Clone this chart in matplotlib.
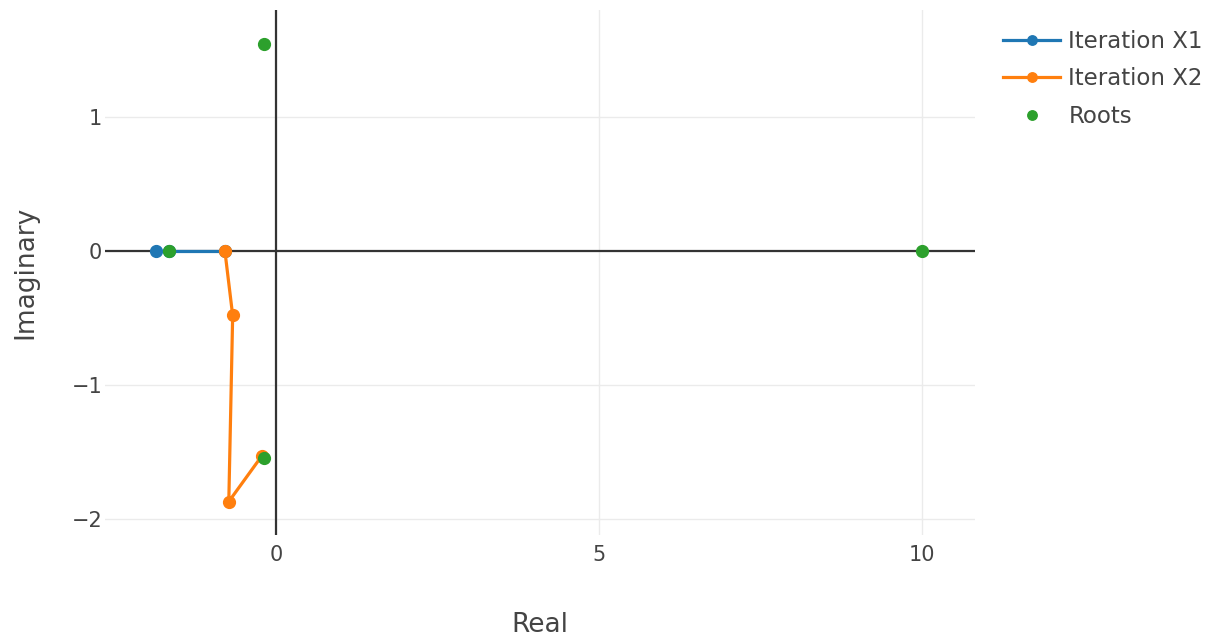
import numpy as np
import matplotlib.pyplot as plt

# Iterates of the two sequences and the polynomial roots (complex plane)
x1_real = [-0.79, -1.86, -1.66]
x1_imag = [0.0, 0.0, 0.0]

x2_real = [-0.79, -0.67, -0.73, -0.22]
x2_imag = [0.0, -0.48, -1.87, -1.53]

roots_real = [-0.19, -0.19, -1.66, 10.0]
roots_imag = [1.545, -1.545, 0.0, 0.0]

xticks = [0, 5, 10]
yticks = [-2, -1, 0, 1]

plt.rcParams['font.family'] = ['DejaVu Sans']

fig = plt.figure(figsize=(12.19, 6.38), dpi=100)
ax = fig.add_axes([0.0861, 0.1614, 0.7137, 0.8226])

ax.plot(x1_real, x1_imag, color='#1f77b4', lw=2.3, marker='o', ms=8.5,
        label='Iteration X1', zorder=3)
ax.plot(x2_real, x2_imag, color='#ff7f0e', lw=2.3, marker='o', ms=8.5,
        label='Iteration X2', zorder=4)
ax.plot(roots_real, roots_imag, color='#2ca02c', lw=0, marker='o', ms=8.5,
        label='Roots', zorder=5)

ax.axhline(0, color='#333333', lw=1.6, zorder=2)
ax.axvline(0, color='#333333', lw=1.6, zorder=2)

ax.set_xlim(-2.647, 10.82)
ax.set_ylim(-2.12, 1.80)
ax.set_xticks(xticks)
ax.set_yticks(yticks)
ax.set_xticklabels([str(t) for t in xticks])
ax.set_yticklabels([str(t).replace('-', '\u2212') for t in yticks])
ax.grid(True, color='#ebebeb', lw=1)
ax.set_axisbelow(True)
for s in ax.spines.values():
    s.set_visible(False)
ax.tick_params(length=0, labelsize=15, labelcolor='#444444')
ax.tick_params(axis='x', pad=7)
ax.tick_params(axis='y', pad=2)

ax.set_xlabel('Real', fontsize=19, color='#444444', labelpad=34)
ax.set_ylabel('Imaginary', fontsize=19, color='#444444', labelpad=24)

leg = fig.legend(loc='upper left', bbox_to_anchor=(0.806, 0.985), frameon=False,
                 fontsize=16.5, handlelength=2.5, labelspacing=0.62,
                 handletextpad=0.35, markerscale=0.8)
for t in leg.get_texts():
    t.set_color('#444444')

fig.savefig('out.png', dpi=100)
